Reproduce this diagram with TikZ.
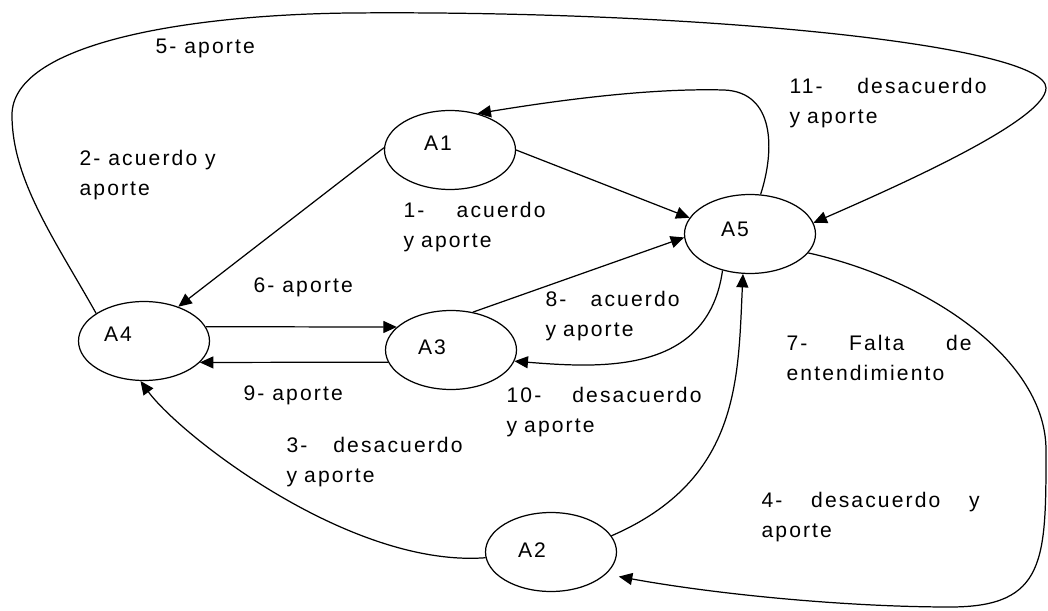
\documentclass[tikz,border=0pt]{standalone}
\usepackage{fontspec}
\setmainfont{Liberation Sans}[LetterSpace=10]
\usetikzlibrary{arrows.meta,shapes.geometric}

\begin{document}
\begin{tikzpicture}[x=0.02cm, y=-0.02cm, line width=0.7pt,
    font=\fontsize{12}{17}\selectfont,
    agent/.style={draw, ellipse, minimum width=2.62cm, minimum height=1.58cm, inner sep=0pt},
    flow/.style={-{Triangle[length=0.27cm,width=0.24cm]}},
    note/.style={anchor=west, inner sep=0pt, align=left}]
  \useasboundingbox (0,0) rectangle (1048,611);
  \node[agent, label={[xshift=-0.24cm,yshift=0.14cm]center:A1}] (A1) at (450,150) {};
  \node[agent, label={[xshift=-0.3cm,yshift=0.1cm]center:A5}] (A5) at (750,234) {};
  \node[agent, label={[xshift=-0.52cm,yshift=0.13cm]center:A4}] (A4) at (144,341) {};
  \node[agent, label={[xshift=-0.38cm,yshift=0.06cm]center:A3}] (A3) at (451,350) {};
  \node[agent, label={[xshift=-0.38cm,yshift=0.04cm]center:A2}] (A2) at (551,552) {};

  \node[note] (l5) at (155,48) {5- aporte};
  \node[note] (l2) at (79,175) {2- acuerdo y\\aporte};
  \node[note, text width=2.84cm] (l1) at (403,227) {1-\hfill acuerdo\\y aporte};
  \node[note] (l6) at (253,287) {6- aporte};
  \node[note, text width=3.94cm] (l11) at (789,103) {11-\hfill desacuerdo\\y aporte};
  \node[note, text width=2.68cm] (l8) at (545,316) {8-\hfill acuerdo\\y aporte};
  \node[note] (l9) at (243,395) {9- aporte};
  \node[note, text width=3.52cm] (l3) at (286,462) {3-\hfill desacuerdo\\y aporte};
  \node[note, text width=3.9cm] (l10) at (506,412) {10-\hfill desacuerdo\\y aporte};
  \node[note, text width=3.7cm] (l7) at (786,358) {7-\hfill Falta\hfill de\\entendimiento};
  \node[note, text width=4.36cm] (l4) at (761,517) {4-\hfill desacuerdo\hfill y\\aporte};

  \draw[flow] (A1.east) -- (A5.165);
  \draw[flow] (A3.60) -- (A5.183);
  \draw[flow] (A1.178) -- (A4.45);
  \draw[flow] (A4.13) -- (A3.157);
  \draw[flow] (A3.191) -- (A4.-21);
  \draw[flow] (A4.150) .. controls (55,240) and (12,180) .. (12,115)
    .. controls (12,45) and (180,15) .. (350,13)
    .. controls (700,10) and (1046,45) .. (1046,88)
    .. controls (1046,120) and (900,185) .. (A5.10);
  \draw[flow] (A5.75) .. controls (775,150) and (775,92) .. (724,90)
    .. controls (650,88) and (560,100) .. (A1.53);
  \draw[flow] (A5.-127) .. controls (708,375) and (600,368) .. (A3.-10);
  \draw[flow] (A2.15) .. controls (740,480) and (738,380) .. (A5.-100);
  \draw[flow] (A2.185) .. controls (350,568) and (180,435) .. (A4.-95);
  \draw[flow, shorten >=0.26cm] (A5.-18) .. controls (930,280) and (1046,360) .. (1046,450)
    .. controls (1046,560) and (1046,607) .. (950,607)
    .. controls (850,607) and (720,595) .. (A2.-22);
\end{tikzpicture}
\end{document}
